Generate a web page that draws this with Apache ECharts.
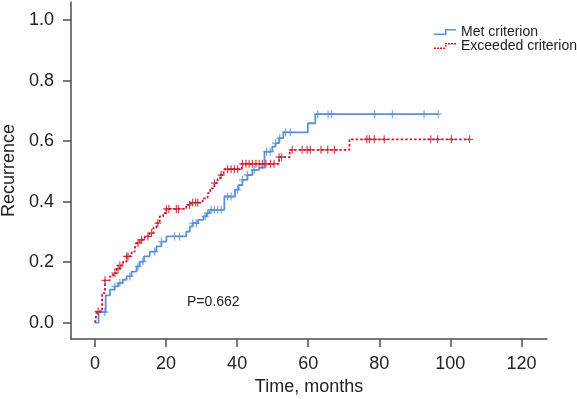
<!DOCTYPE html>
<html>
<head>
<meta charset="utf-8">
<title>Recurrence</title>
<script src="https://cdn.jsdelivr.net/npm/echarts@6/dist/echarts.min.js"></script>
<style>
  html, body { margin: 0; padding: 0; background: #fff; }
  #chart { width: 577px; height: 399px; }
</style>
</head>
<body>
<div id="chart"></div>
<script>
// Kaplan-Meier style step data: time (months) and cumulative recurrence after each step
const metTimes  = [0, 1.0, 3.0, 4.2, 5.5, 6.5, 7.8, 8.9, 10.3, 11.7, 12.6, 13.8, 15.4, 17.3, 18.7, 20.1, 25.7, 26.7, 27.5, 29.0, 30.5, 31.5, 32.2, 36.4, 39.4, 40.4, 41.5, 42.9, 44.3, 46.2, 47.7, 49.9, 50.8, 51.8, 53.0, 59.9, 62.0, 96.6]
const metValues = [0, 0.035, 0.09, 0.109, 0.12, 0.131, 0.142, 0.153, 0.169, 0.186, 0.202, 0.219, 0.235, 0.252, 0.268, 0.285, 0.301, 0.318, 0.329, 0.34, 0.351, 0.362, 0.373, 0.417, 0.439, 0.455, 0.472, 0.488, 0.505, 0.512, 0.565, 0.582, 0.593, 0.61, 0.629, 0.659, 0.689, 0.689]
const metCensored = [2.8, 5.6, 7.0, 9.8, 12.1, 13.5, 16.8, 18.7, 22.4, 23.8, 27.5, 28.5, 31.0, 31.7, 32.7, 33.6, 34.5, 35.5, 37.3, 38.3, 40.1, 41.5, 42.9, 44.8, 48.3, 49.3, 50.8, 52.0, 53.6, 55.0, 62.7, 65.6, 66.5, 78.7, 83.7, 92.6, 96.6]

const excTimes  = [0, 0.5, 2.0, 2.8, 4.2, 5.1, 6.1, 7.0, 7.9, 8.9, 10.3, 11.2, 11.7, 12.6, 14.0, 15.4, 16.4, 17.3, 18.2, 19.2, 20.1, 25.7, 27.0, 30.3, 31.7, 32.4, 33.6, 34.5, 35.2, 36.2, 41.3, 51.8, 54.8, 71.6, 105.4]
const excValues = [0, 0.037, 0.098, 0.14, 0.153, 0.164, 0.178, 0.189, 0.202, 0.219, 0.235, 0.246, 0.263, 0.274, 0.285, 0.296, 0.313, 0.329, 0.351, 0.362, 0.376, 0.389, 0.397, 0.411, 0.428, 0.444, 0.461, 0.474, 0.488, 0.507, 0.525, 0.547, 0.571, 0.606, 0.606]
const excCensored = [0.9, 2.8, 5.6, 6.5, 7.0, 8.9, 9.3, 12.1, 13.1, 14.9, 15.9, 17.7, 20.1, 20.8, 22.9, 23.5, 26.6, 27.5, 28.3, 28.9, 33.6, 35.5, 37.3, 38.3, 39.2, 40.1, 41.5, 42.5, 43.4, 44.3, 45.3, 46.2, 47.1, 48.1, 49.4, 50.4, 51.8, 52.5, 55.5, 58.3, 59.7, 60.6, 63.6, 65.5, 67.4, 76.5, 77.2, 78.6, 81.4, 94.5, 96.4, 100.3, 105.4]

const xTicks = [0, 20, 40, 60, 80, 100, 120]
const yTicks = [0, 0.2, 0.4, 0.6, 0.8, 1.0]
const pValueText = 'P=0.662'

const BLUE = '#5a91d8'
const RED = '#cc1a30'
const AXIS = '#4d4d4d'
const FONT = '"Liberation Sans", Arial, Helvetica, sans-serif'

// value of the step curve at time t (last step at or before t)
function stepValue(times, values, t) {
  let v = values[0]
  for (let i = 0; i < times.length; i++) {
    if (times[i] <= t) v = values[i]
  }
  return v
}

const PLUS = 'path://M3,0h1.3v3.35h3v1.3h-3v3.35h-1.3v-3.35h-3v-1.3h3z'
const BLUE_ICON = 'path://M0,4.5H11V0H22V1.5H12.5V6H0Z'
const RED_ICON = 'path://M0,4.5h2v1.5h-2zM3,4.5h2v1.5h-2zM6,4.5h2v1.5h-2zM9,4.5h2v1.5h-2z' +
  'M11,2.2h1.5v1.6h-1.5zM11,0h2v1.5h-2zM14,0h2v1.5h-2zM17,0h2v1.5h-2zM20,0h2v1.5h-2z'

const chart = echarts.init(document.getElementById('chart'), null, { renderer: 'canvas' })

chart.setOption({
  animation: false,
  backgroundColor: '#fff',
  textStyle: { fontFamily: FONT },
  // fixed plot box, labels are allowed to sit outside it
  grid: { left: 71, top: 2, width: 476, height: 337, containLabel: false, outerBoundsMode: 'none' },
  legend: {
    orient: 'vertical',
    left: 434,
    top: 25,
    padding: 0,
    itemWidth: 22,
    itemHeight: 6,
    itemGap: 0,
    symbolKeepAspect: false,
    selectedMode: false,
    itemStyle: { borderWidth: 0 },
    textStyle: { fontSize: 14, lineHeight: 14, color: '#222', fontFamily: FONT },
    data: [
      { name: 'Met criterion', icon: BLUE_ICON },
      { name: 'Exceeded criterion', icon: RED_ICON },
    ],
  },
  xAxis: {
    type: 'value',
    min: -6.75,
    max: 127.2,
    name: 'Time, months',
    nameLocation: 'middle',
    nameGap: 39,
    nameTextStyle: { fontSize: 18, color: '#222', fontFamily: FONT },
    axisLine: { show: true, onZero: false, lineStyle: { color: AXIS, width: 1.5 } },
    axisTick: { show: true, length: 8, customValues: xTicks, lineStyle: { color: AXIS, width: 1.5 } },
    axisLabel: { customValues: xTicks, fontSize: 18, margin: 16, color: '#222', fontFamily: FONT },
    splitLine: { show: false },
  },
  yAxis: {
    type: 'value',
    min: -0.0538,
    max: 1.0595,
    name: 'Recurrence',
    nameLocation: 'middle',
    nameRotate: 90,
    nameGap: 50,
    nameTextStyle: { fontSize: 18, color: '#222', fontFamily: FONT },
    axisLine: { show: true, onZero: false, lineStyle: { color: AXIS, width: 1.5 } },
    axisTick: { show: true, length: 8, customValues: yTicks, lineStyle: { color: AXIS, width: 1.5 } },
    axisLabel: {
      customValues: yTicks,
      fontSize: 18,
      margin: 17,
      color: '#222',
      fontFamily: FONT,
      formatter: v => v.toFixed(1),
    },
    splitLine: { show: false },
  },
  graphic: [
    {
      type: 'text',
      left: 187,
      top: 295,
      style: { text: pValueText, font: '14px ' + FONT, fill: '#222' },
    },
  ],
  series: [
    {
      name: 'Met criterion',
      type: 'line',
      step: 'end',
      symbol: 'none',
      data: metTimes.map((t, i) => [t, metValues[i]]),
      lineStyle: { color: BLUE, width: 1.8 },
      itemStyle: { color: BLUE },
      z: 2,
    },
    {
      name: 'Exceeded criterion',
      type: 'line',
      step: 'end',
      symbol: 'none',
      data: excTimes.map((t, i) => [t, excValues[i]]),
      lineStyle: { color: RED, width: 1.8, type: [2.5, 2] },
      itemStyle: { color: RED },
      z: 3,
    },
    {
      type: 'scatter',
      symbol: PLUS,
      symbolSize: [7, 8],
      data: metCensored.map(t => [t, stepValue(metTimes, metValues, t)]),
      itemStyle: { color: BLUE },
      silent: true,
      z: 4,
    },
    {
      type: 'scatter',
      symbol: PLUS,
      symbolSize: [7, 8],
      data: excCensored.map(t => [t, stepValue(excTimes, excValues, t)]),
      itemStyle: { color: RED },
      silent: true,
      z: 5,
    },
  ],
})
</script>
</body>
</html>
